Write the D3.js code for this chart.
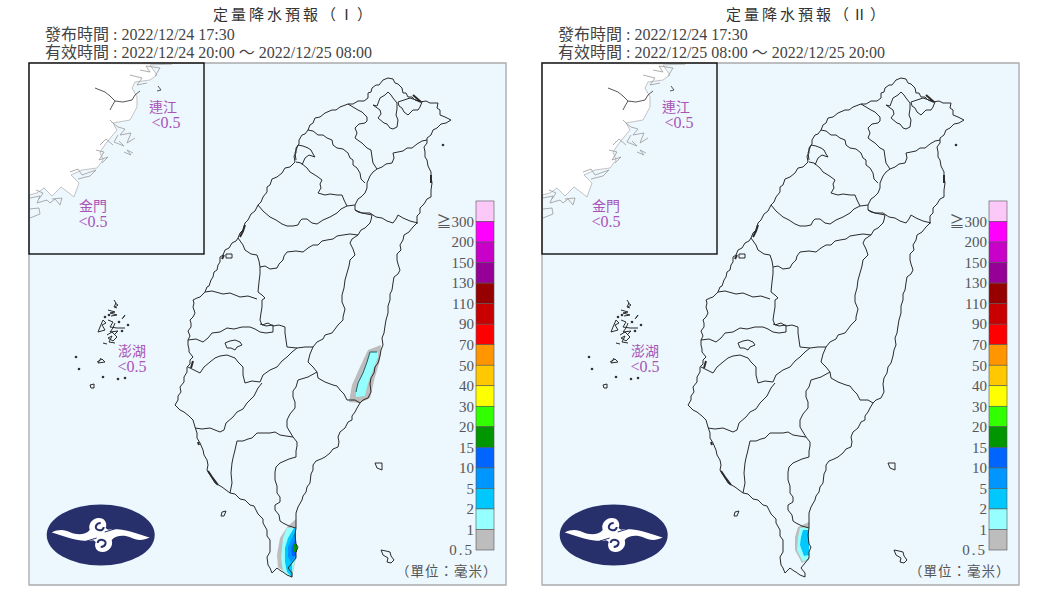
<!DOCTYPE html>
<html>
<head>
<meta charset="utf-8">
<title>定量降水預報</title>
<script src="https://cdn.jsdelivr.net/npm/d3@7"></script>
<style>
body { margin: 0; background: #fff; }
text { font-family: "Liberation Serif", "Noto Sans CJK TC", serif; }
</style>
</head>
<body>
<div id="chart"></div>
<script>
// issue info
var issueTime = "2022/12/24 17:30";
var titles = ["定量降水預報（Ⅰ）", "定量降水預報（Ⅱ）"];
var validTimes = ["2022/12/24 20:00 ～ 2022/12/25 08:00", "2022/12/25 08:00 ～ 2022/12/25 20:00"];

// colour bar
var levels = ["≧300", "200", "150", "130", "110", "90", "70", "50", "40", "30", "20", "15", "10", "5", "2", "1", "0.5"];
var levelColors = ["#fcc8f8", "#ff00ff", "#c800c8", "#960096", "#960000", "#c80000", "#ff0000", "#ff9600",
    "#ffc800", "#ffff00", "#32ff00", "#009600", "#0064ff", "#0096ff", "#00c8ff", "#96ffff", "#bdbdbd"];

// outlying islands, rainfall label
var islandNames = ["連江", "金門", "澎湖"];
var islandRain = ["<0.5", "<0.5", "<0.5"];
var islandAt = [[163, 112], [93, 211], [132, 356]];

// map lines, in map grid units
var coast = [[191,323],[190,320],[193,317],[195,313],[193,307],[194,303],[193,300],[197,298],[200,297],[205,292],[207,287],[209,286],[211,280],[213,277],
    [214,272],[217,270],[218,265],[220,262],[220,257],[223,255],[225,250],[229,248],[232,243],[236,241],[238,238],[240,233],[243,230],[245,223],
    [248,220],[251,214],[255,211],[258,205],[261,202],[263,197],[267,192],[267,187],[270,185],[272,179],[277,177],[282,173],[285,168],[290,167],[295,162],
    [294,156],[296,153],[296,148],[299,144],[299,140],[302,135],[305,134],[308,130],[310,125],[313,123],[315,118],[320,117],[325,113],[332,110],[336,110],
    [340,107],[348,104],[353,104],[358,101],[364,101],[368,98],[368,93],[371,92],[372,88],[376,85],[379,85],[383,80],[388,78],[393,79],[395,83],[398,84],
    [402,88],[403,93],[406,93],[408,97],[412,97],[415,100],[420,102],[426,101],[430,103],[438,103],[437,108],[440,110],[440,115],[445,117],[451,120],[446,123],
    [441,124],[437,128],[433,130],[431,135],[427,138],[427,143],[424,147],[425,152],[425,157],[427,160],[428,166],[431,172],[431,177],[432,183],[431,190],
    [431,197],[427,199],[424,204],[420,208],[420,213],[417,216],[417,223],[413,227],[409,232],[404,235],[403,240],[400,245],[401,250],[397,254],[397,260],[398,264],
    [400,270],[398,274],[394,277],[393,283],[392,290],[390,294],[390,300],[388,306],[388,313],[386,320],[385,326],[384,333],[382,338],[383,345],[381,350],
    [380,356],[378,363],[375,367],[374,373],[371,378],[370,384],[371,392],[368,398],[363,400],[360,403],[357,408],[355,412],[352,416],[352,420],[348,422],[345,428],
    [340,432],[338,437],[339,442],[338,447],[333,449],[330,453],[325,457],[321,459],[316,461],[313,465],[313,470],[311,474],[310,483],[307,487],[306,492],[303,496],[302,500],
    [298,507],[296,513],[296,521],[296,528],[295,535],[296,544],[298,547],[296,552],[296,558],[292,563],[288,568],[292,573],[292,577],[287,575],[283,572],[281,571],
    [277,568],[272,573],[270,568],[268,565],[267,557],[270,552],[270,545],[270,540],[267,536],[267,530],[263,523],[263,519],[258,514],[254,506],[250,505],[245,500],[240,499],
    [235,494],[230,493],[226,490],[222,487],[215,483],[212,478],[207,470],[208,465],[207,460],[204,455],[203,450],[200,443],[197,438],[197,433],[195,427],[193,420],
    [189,416],[184,412],[180,410],[175,405],[178,400],[178,396],[181,392],[180,387],[184,382],[184,377],[187,372],[187,367],[190,364],[190,360],[193,357],
    [189,352],[189,349],[188,345],[188,340],[190,336],[188,331],[191,327],[191,323]];

var borders = [
    [[308,130],[313,131],[318,135],[323,135],[327,138],[332,140],[333,145],[337,148],[343,149],[348,153],[350,158],[353,160],[353,165],[357,168],[360,173],[361,179],[365,183]],
    [[348,104],[353,107],[358,110],[362,112],[367,117],[367,121],[365,123],[359,124],[355,128],[357,133],[355,138],[359,141],[362,143],[367,148],[371,150],[372,157],[373,163],[377,169]],
    [[373,105],[377,106],[380,98],[385,95],[388,92],[391,95],[393,98],[397,103],[397,109],[396,115],[398,120],[397,127],[393,129],[390,128],[387,124],[384,123],[378,118],[381,114],[380,110],[373,105]],
    [[398,102],[404,100],[410,98],[416,100],[422,102],[420,107],[418,110],[413,110],[408,115],[404,112],[402,108],[399,106],[398,102]],
    [[427,140],[422,141],[417,144],[412,148],[407,148],[403,151],[393,153],[394,158],[392,163],[386,164],[382,167],[377,169],[373,172],[370,176],[367,183],[367,188],[365,193],[361,197],[358,199],[355,205]],
    [[296,160],[295,153],[298,145],[303,146],[308,148],[311,150],[313,154],[315,157],[309,155],[305,158],[302,165]],
    [[296,162],[301,163],[307,168],[310,172],[315,175],[318,177],[322,180],[320,184],[321,188],[318,193],[325,195],[330,194],[337,195],[342,195],[344,200],[347,206],[355,205]],
    [[418,223],[410,221],[403,218],[398,215],[396,219],[393,223],[387,221],[382,218],[376,217],[370,213],[362,213],[358,212],[355,210],[355,205]],
    [[258,205],[263,211],[270,217],[276,220],[282,224],[287,226],[293,226],[298,225],[300,221],[302,219],[307,219],[312,223],[317,224],[323,220],[330,217],[337,213],[341,209],[345,207],[347,206]],
    [[355,210],[362,213],[372,215],[371,220],[370,223],[365,228],[361,230],[358,235],[350,234],[343,235],[337,236],[333,239],[327,240],[322,241],[318,245],[313,245],[308,248],[303,252],[296,251],[287,252],[284,256],[283,260],[279,264],[277,268],[270,269],[265,266],[260,267],[259,261],[257,255],[251,254],[245,250],[243,245],[238,238]],
    [[260,267],[260,274],[259,282],[258,292],[262,295],[265,298],[262,300],[262,307],[261,313],[260,320],[262,325],[268,323],[273,326],[279,325],[285,327],[285,333],[286,340],[287,347],[297,348],[305,347],[313,347]],
    [[205,292],[212,291],[223,294],[230,293],[240,297],[248,296],[257,299]],
    [[358,235],[352,239],[350,243],[353,249],[355,255],[350,260],[349,266],[347,273],[345,280],[344,288],[342,295],[342,302],[345,309],[343,317],[343,320],[338,325],[332,333],[325,335],[323,339],[317,342],[313,347],[310,354],[308,362],[313,367],[317,372],[318,378],[325,382],[333,385],[337,386],[340,390],[344,394],[347,400],[355,400],[360,403]],
    [[188,340],[196,339],[203,342],[208,338],[212,333],[220,332],[227,328],[234,329],[242,327],[250,327],[255,329],[260,332],[266,333],[273,332],[273,325],[266,326],[260,324]],
    [[297,348],[292,352],[287,357],[282,361],[277,367],[270,370],[263,375],[260,382],[252,381],[245,383],[243,375],[243,367],[238,362],[235,358],[227,355],[220,356],[215,358],[210,362],[204,367],[200,373],[194,370],[188,367]],
    [[225,343],[230,341],[235,340],[240,342],[242,345],[237,347],[235,350],[231,348],[227,348],[225,343]],
    [[262,383],[258,388],[254,396],[247,403],[243,409],[237,412],[233,417],[226,423],[224,430],[220,432],[210,428],[202,429],[195,428]],
    [[317,372],[308,377],[298,380],[296,387],[293,391],[293,397],[295,402],[295,408],[290,414],[287,420],[287,427],[293,437]],
    [[293,437],[286,436],[280,435],[275,432],[270,433],[263,433],[257,433],[252,438],[248,439],[243,441],[237,441],[235,450],[233,458],[232,463],[231,473],[232,483],[230,493]],
    [[293,437],[297,442],[297,446],[296,451],[296,457],[289,459],[280,463],[276,467],[275,472],[275,480],[277,486],[277,493],[280,497],[280,502],[275,505],[275,510],[279,515],[280,521],[283,523],[289,526],[296,528]]
];

var islets = [
    [[375,463],[382,463],[382,470],[377,468],[375,463]],
    [[381,550],[386,551],[390,552],[391,556],[394,560],[391,563],[387,562],[388,558],[383,555],[381,550]],
    [[222,512],[226,511],[224,516],[221,516],[222,512]],
    [[226,254],[232,254],[232,258],[226,258],[226,254]],
    [[114,300],[116,303],[114,307],[117,308]],
    [[115,303],[118,305],[115,307]],
    [[108,310],[115,312],[110,313],[117,315],[111,316]],
    [[103,320],[100,327],[98,332],[105,330],[102,325],[106,323],[103,320]],
    [[108,320],[113,322],[110,327],[117,328],[125,328]],
    [[115,323],[113,328],[110,332],[118,331],[114,335]],
    [[107,335],[112,332],[117,337],[113,341],[108,338],[112,336],[109,342],[115,343]],
    [[123,318],[125,315],[122,319]],
    [[103,343],[107,344]],
    [[97,362],[102,359],[105,362],[98,363],[101,358]],
    [[90,385],[94,384],[94,388],[91,388],[90,385]]
];
var coastDots = [[76,357],[79,369],[103,377],[118,379],[125,378],[128,325],[443,145],[109,315],[105,317],[119,322],[122,331]];
var coastThick = [
    [[240,237],[243,231],[245,225]],
    [[208,471],[212,477],[218,485]],
    [[191,368],[193,361]],
    [[413,95],[421,102]],
    [[431,175],[431,183]],
    [[198,442],[199,445]],
    [[222,259],[224,255]]
];

// mainland coast in the inset
var mainland = [[29,63],[172,64],[150,65],[157,75],[150,80],[135,82],[132,88],[137,97],[137,107],[130,120],[113,123],[117,130],[107,142],
    [100,152],[103,160],[97,168],[82,170],[71,175],[79,183],[74,197],[69,193],[61,187],[52,196],[44,188],[37,193],[29,195]];
var insetDark = [
    [[95,88],[100,90],[105,92],[110,96],[115,101],[112,106],[110,110]],
    [[115,101],[123,102],[132,100],[135,95],[140,91]],
    [[158,86],[161,90],[157,91]]
];
var insetPale = [
    [[110,120],[114,124],[118,127],[125,129],[120,135],[131,133],[127,143],[135,138]],
    [[118,135],[114,142],[124,146],[119,141]],
    [[96,150],[104,152],[99,160],[108,157],[102,163]],
    [[124,152],[131,155],[127,150],[133,153]],
    [[70,172],[78,169],[82,175],[96,170],[90,176],[78,179]],
    [[30,198],[40,196],[37,203],[47,200],[50,203],[55,199],[60,205],[62,198],[52,199]],
    [[36,190],[43,193],[39,199]],
    [[30,209],[39,208],[40,214],[30,218]],
    [[140,70],[150,72],[146,66],[160,68],[155,76]],
    [[130,75],[142,78],[137,85],[147,83]],
    [[100,145],[106,139],[113,145]]
];

// rainfall areas: level and ring, per panel
var rainFirst = [
    { level: "0.5", ring: [[368,350],[381,345],[380,360],[375,377],[370,398],[360,403],[349,402],[352,385],[360,367]] },
    { level: "1", ring: [[370,352],[378,352],[378,357],[373,370],[368,383],[365,396],[356,397],[356,390],[358,383],[363,373],[367,362]] },
    { level: "0.5", ring: [[288,526],[296,519],[296,557],[292,578],[278,567],[277,555],[280,538]] },
    { level: "1", ring: [[287,528],[296,527],[296,557],[291,577],[283,571],[281,558],[283,538]] },
    { level: "2", ring: [[294,528],[296,528],[296,558],[292,563],[292,577],[287,572],[285,562],[285,548],[288,538]] },
    { level: "5", ring: [[295,533],[296,533],[296,557],[291,562],[288,557],[288,547],[291,540]] },
    { level: "10", ring: [[295,540],[296,540],[296,556],[292,556],[291,548]] },
    { level: "15", ring: [[294,544],[297,544],[297,552],[294,552],[293,548]] }
];
var rainSecond = [
    { level: "0.5", ring: [[285,527],[296,522],[296,560],[289,563],[282,550],[282,537]] },
    { level: "1", ring: [[287,528],[296,527],[296,558],[290,562],[284,550],[285,537]] },
    { level: "2", ring: [[290,530],[296,530],[296,555],[291,556],[287,545],[288,537]] }
];
var rainLines = [[[377,352],[370,352],[367,362],[363,373],[358,383],[356,392]]];

var width = 1060, height = 596, panelW = 478;
var panelGap = 513;

var svg = d3.select("#chart").append("svg")
    .attr("width", width)
    .attr("height", height);

var colorOf = d3.scaleOrdinal(levels, levelColors);
var barY = d3.scalePoint().domain(levels).range([221.5, 550]);
var barStep = barY.step();

function drawPanel(idx, rain) {
    var off = idx * panelGap;
    var x = d3.scaleLinear().domain([29, 507]).range([29 + off, 507 + off]);
    var y = d3.scaleLinear().domain([63, 585]).range([63, 585]);
    var line = d3.line().x(d => x(d[0])).y(d => y(d[1]));
    var g = svg.append("g");

    // background
    g.append("rect")
        .attr("x", x(29)).attr("y", y(63))
        .attr("width", panelW).attr("height", 522)
        .attr("fill", "#ecf7fe");
    g.append("path")
        .attr("d", "M" + x(29) + "," + y(63) + "H" + x(506) + "V" + y(585) + "H" + x(29) + "Z")
        .attr("fill", "none").attr("stroke", "#a8aaac").attr("stroke-width", 1.3);

    // rain
    g.selectAll(".rain").data(rain).enter().append("path")
        .attr("d", d => line(d.ring) + "Z")
        .attr("fill", d => colorOf(d.level))
        .attr("stroke", "none");
    if (idx == 0) {
        g.selectAll(".rainline").data(rainLines).enter().append("path")
            .attr("d", line)
            .attr("fill", "none").attr("stroke", "#1c5f66").attr("stroke-width", 1);
    }

    // map lines
    g.selectAll(".border").data(borders).enter().append("path")
        .attr("d", line)
        .attr("fill", "none").attr("stroke", "#2b2b2b").attr("stroke-width", 1);
    g.append("path").attr("d", line(coast))
        .attr("fill", "none").attr("stroke", "#2b2b2b").attr("stroke-width", 1);
    g.selectAll(".islet").data(islets).enter().append("path")
        .attr("d", line)
        .attr("fill", "none").attr("stroke", "#2b2b2b").attr("stroke-width", 1);
    g.selectAll(".thick").data(coastThick).enter().append("path")
        .attr("d", line)
        .attr("fill", "none").attr("stroke", "#2b2b2b").attr("stroke-width", 2);
    g.selectAll(".dot").data(coastDots).enter().append("circle")
        .attr("cx", d => x(d[0])).attr("cy", d => y(d[1]))
        .attr("r", 1.3).attr("fill", "#333");

    // inset
    var clipId = "inset" + idx;
    g.append("clipPath").attr("id", clipId).append("rect")
        .attr("x", x(29)).attr("y", y(63)).attr("width", 175).attr("height", 191);
    var inset = g.append("g").attr("clip-path", "url(#" + clipId + ")");
    inset.append("path").attr("d", line(mainland) + "Z")
        .attr("fill", "#fff").attr("stroke", "#b4b4b4").attr("stroke-width", 0.8);
    inset.selectAll(".pale").data(insetPale).enter().append("path")
        .attr("d", line)
        .attr("fill", "none").attr("stroke", "#999").attr("stroke-width", 0.8);
    inset.selectAll(".dark").data(insetDark).enter().append("path")
        .attr("d", line)
        .attr("fill", "none").attr("stroke", "#444").attr("stroke-width", 0.9);
    g.append("rect")
        .attr("x", x(29)).attr("y", y(63)).attr("width", 175).attr("height", 191)
        .attr("fill", "none").attr("stroke", "#111").attr("stroke-width", 1.4);

    // island labels
    var labels = g.selectAll(".island").data(islandNames).enter().append("g")
        .attr("transform", (d, i) => "translate(" + x(islandAt[i][0]) + "," + y(islandAt[i][1]) + ")")
        .attr("fill", "#a855b8")
        .attr("text-anchor", "middle");
    labels.append("text").attr("font-size", 14).text(d => d);
    labels.append("text").attr("x", (d, i) => i == 0 ? 3 : 0).attr("y", 15.5).attr("font-size", 16).text((d, i) => islandRain[i]);

    // colour bar
    var bar = g.append("g").attr("transform", "translate(" + off + ",0)");
    bar.selectAll("rect").data(levels).enter().append("rect")
        .attr("x", 476).attr("width", 18)
        .attr("y", d => barY(d) - barStep).attr("height", barStep)
        .attr("fill", d => colorOf(d))
        .attr("stroke", "#555").attr("stroke-width", 0.6);
    var axis = bar.append("g").attr("transform", "translate(475,0)")
        .call(d3.axisLeft(barY).tickSize(0).tickPadding(1));
    axis.select(".domain").remove();
    axis.selectAll("text")
        .attr("font-family", "'Liberation Serif','Noto Sans CJK TC',serif")
        .attr("font-size", 15)
        .attr("fill", "#555")
        .attr("letter-spacing", d => d == "0.5" ? 2 : 0);

    g.append("text")
        .attr("x", x(396)).attr("y", y(576))
        .attr("font-size", 13.5).attr("letter-spacing", 1).attr("fill", "#555")
        .text("（單位：毫米）");

    // logo
    var logo = g.append("g").attr("transform", "translate(" + x(100.7) + "," + y(535) + ")");
    logo.append("ellipse").attr("rx", 54).attr("ry", 30.5).attr("fill", "#27306b");
    var swirl = "M-49,-2.5C-42,-6 -36,-5.5 -30,-2.5C-24,0 -15,0 -11,-5C-13,-11 -8,-17 -2,-17C4,-17 7,-12 5,-7L10,-3C2,5 -10,6 -17,5.7C-28,5 -40,0 -49,-2.5Z";
    var curl = "M0,-12C-5,-12 -7,-6 -2,-5C1,-4 3,-6 3,-8";
    [0, 180].forEach(function(a) {
        logo.append("path").attr("d", swirl).attr("fill", "#fff").attr("transform", "rotate(" + a + ")");
    });
    [0, 180].forEach(function(a) {
        logo.append("path").attr("d", curl).attr("fill", "none").attr("stroke", "#27306b").attr("stroke-width", 2)
            .attr("transform", "rotate(" + a + ")");
        logo.append("path").attr("d", "M4,-3L14,-6").attr("fill", "none").attr("stroke", "#27306b").attr("stroke-width", 1)
            .attr("transform", "rotate(" + a + ")");
    });

    // heading
    g.append("text")
        .attr("x", x(213)).attr("y", 20)
        .attr("font-size", 15).attr("letter-spacing", 3).attr("fill", "#333")
        .text(titles[idx]);
    g.append("text")
        .attr("x", x(45)).attr("y", 40)
        .attr("font-size", 16).attr("fill", "#444")
        .text("發布時間 : " + issueTime);
    g.append("text")
        .attr("x", x(45)).attr("y", 58)
        .attr("font-size", 16).attr("fill", "#444")
        .text("有效時間 : " + validTimes[idx]);
}

drawPanel(0, rainFirst);
drawPanel(1, rainSecond);
</script>
</body>
</html>
